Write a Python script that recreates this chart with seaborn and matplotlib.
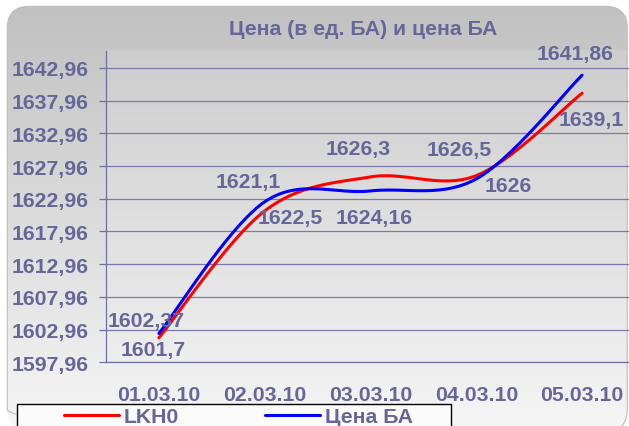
import numpy as np
import matplotlib
matplotlib.use('Agg')
import matplotlib.pyplot as plt
from matplotlib.patches import FancyBboxPatch, Rectangle
import seaborn as sns

# values
dates = ['01.03.10', '02.03.10', '03.03.10', '04.03.10', '05.03.10']
lkh0 = [1601.7, 1621.1, 1626.3, 1626.5, 1639.1]
price_ba = [1602.37, 1622.5, 1624.16, 1626.0, 1641.86]
y_ticks = [1597.96, 1602.96, 1607.96, 1612.96, 1617.96,
           1622.96, 1627.96, 1632.96, 1637.96, 1642.96]

# data label offsets in pixels (x right, y up) from each point
lkh0_off = [(-6, -17), (-16, 24), (-12, 23), (-17, 21), (9, -32)]
ba_off = [(-13, 7), (26, -21), (4, -32), (32, -12), (-7, 16)]

TXT = '#666699'
FS = 15.3
W, H = 629, 427


# excel style smoothed line (bezier through the points)
def excel_smooth(vals, steps=30):
    p = np.column_stack([np.arange(len(vals)), vals]).astype(float)
    ext = np.vstack([p[0], p, p[-1]])
    out = []
    t = np.linspace(0, 1, steps)[:, None]
    for i in range(len(p) - 1):
        p0, p1, p2, p3 = ext[i], ext[i + 1], ext[i + 2], ext[i + 3]
        c1 = p1 + (p2 - p0) / 6
        c2 = p2 - (p3 - p1) / 6
        seg = (1 - t) ** 3 * p1 + 3 * (1 - t) ** 2 * t * c1 + 3 * (1 - t) * t ** 2 * c2 + t ** 3 * p2
        out.append(seg if i == 0 else seg[1:])
    return np.vstack(out)


sns.set_style('white')
plt.rcParams['font.family'] = ['Liberation Sans', 'DejaVu Sans']
plt.rcParams['font.weight'] = 'bold'

fig = plt.figure(figsize=(W / 100, H / 100), dpi=100)

# background in pixel coordinates
bg = fig.add_axes([0, 0, 1, 1], zorder=-10)
bg.set_xlim(0, W)
bg.set_ylim(H, 0)
bg.axis('off')
box = FancyBboxPatch((7.3, 7.3), 620, 425, boxstyle='round,pad=0,rounding_size=22',
                     facecolor='none', edgecolor='#bdbdbd', lw=0.8)
bg.add_patch(box)
grad = np.linspace(0, 1, 256)[:, None]
img = bg.imshow(grad, cmap=matplotlib.colors.LinearSegmentedColormap.from_list('g', ['#c1c1c1', '#f6f6f6']),
                extent=[7.3, 627.3, 432, 7.3], aspect='auto')
img.set_clip_path(box)
pimg = bg.imshow(grad, cmap=matplotlib.colors.LinearSegmentedColormap.from_list('p', ['#cdcdcd', '#eeeeee']),
                 extent=[106, 627.3, 363.3, 51.7], aspect='auto')
pimg.set_clip_path(box)
bg.set_xlim(0, W)
bg.set_ylim(H, 0)

# plot area
ax = fig.add_axes([106 / W, 1 - 363.3 / H, 529 / W, (363.3 - 51.7) / H])
ax.set_facecolor('none')

red = excel_smooth(lkh0)
blue = excel_smooth(price_ba)
sns.lineplot(x=red[:, 0], y=red[:, 1], color='#ff0000', lw=2.2, sort=False,
             estimator=None, ax=ax, label='LKH0', zorder=4)
sns.lineplot(x=blue[:, 0], y=blue[:, 1], color='#0000ff', lw=2.2, sort=False,
             estimator=None, ax=ax, label='Цена БА', zorder=5)

for vals, offs in [(lkh0, lkh0_off), (price_ba, ba_off)]:
    for i, v in enumerate(vals):
        ax.annotate(f'{v:g}'.replace('.', ','), (i, v), xytext=offs[i],
                    textcoords='offset pixels', ha='center', va='baseline',
                    fontsize=FS, fontweight='bold', color=TXT, zorder=6)

ax.set_xlim(-0.5, 4.5)
ax.set_ylim(1597.96, 1645.6)
ax.set_yticks(y_ticks)
ax.set_yticklabels([f'{v:.2f}'.replace('.', ',') for v in y_ticks])
ax.set_xticks(range(len(dates)))
ax.set_xticklabels(dates)
ax.set_xticks(np.arange(-0.5, 5, 1), minor=True)
ax.tick_params(axis='x', which='major', length=0, pad=16.5, labelsize=FS, labelcolor=TXT)
ax.tick_params(axis='x', which='minor', length=4.8, width=0.9, color='#7070a0', direction='out')
ax.tick_params(axis='y', length=4.8, width=0.9, color='#7070a0', pad=7.9, labelsize=FS,
               labelcolor=TXT, direction='out', left=True)
for lab in ax.get_xticklabels() + ax.get_yticklabels():
    lab.set_fontweight('bold')
ax.grid(axis='y', color='#7a7aaa', lw=0.9)
ax.grid(axis='x', visible=False)
for s in ['top', 'right']:
    ax.spines[s].set_visible(False)
for s in ['left', 'bottom']:
    ax.spines[s].set_color('#7070a0')
    ax.spines[s].set_linewidth(0.9)
ax.set_xlabel('')
ax.set_ylabel('')

# title
fig.text(363 / W, 1 - 35 / H, 'Цена (в ед. БА) и цена БА', ha='center', va='baseline',
         fontsize=FS, fontweight='bold', color=TXT)

# legend box and entries
handles, labels = ax.get_legend_handles_labels()
ax.get_legend().remove()
bg.add_patch(Rectangle((17.3, 405), 434, 40, facecolor='#fbfbfb', edgecolor='black', lw=1, zorder=5))
leg = fig.legend(handles, labels, ncol=2, frameon=False, loc='center left',
                 bbox_to_anchor=(64 / W, 1 - 417.7 / H), borderpad=0, borderaxespad=0,
                 handlelength=55 / 21.3, handletextpad=0.22, columnspacing=4.07,
                 prop={'size': FS, 'weight': 'bold'})
for t in leg.get_texts():
    t.set_color(TXT)

plt.savefig('out.png', dpi=100)
plt.close()
